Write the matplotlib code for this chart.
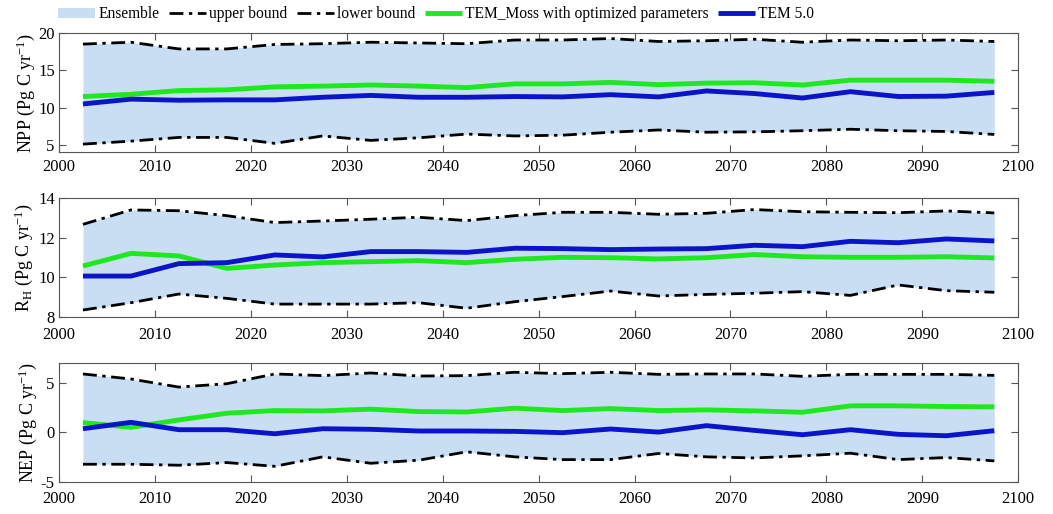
import matplotlib
matplotlib.use("Agg")
import matplotlib.pyplot as plt
import numpy as np

years = [2002.5 + 5 * i for i in range(20)]

npp_upper = [18.55, 18.8, 17.9, 17.9, 18.5, 18.6, 18.8, 18.7, 18.6, 19.1,
             19.1, 19.3, 18.9, 19.0, 19.2, 18.8, 19.1, 19.0, 19.1, 18.9]
npp_lower = [5.1, 5.5, 6.0, 6.0, 5.2, 6.2, 5.6, 5.95, 6.45, 6.2,
             6.3, 6.7, 7.0, 6.7, 6.75, 6.9, 7.1, 6.9, 6.8, 6.4]
npp_moss = [11.5, 11.8, 12.3, 12.4, 12.8, 12.9, 13.05, 12.9, 12.7, 13.2,
            13.2, 13.4, 13.1, 13.3, 13.35, 13.05, 13.7, 13.7, 13.7, 13.55]
npp_tem5 = [10.5, 11.15, 11.0, 11.05, 11.05, 11.4, 11.65, 11.4, 11.4, 11.5,
            11.45, 11.75, 11.45, 12.25, 11.9, 11.3, 12.15, 11.5, 11.55, 12.05]

rh_upper = [12.68, 13.41, 13.37, 13.12, 12.77, 12.85, 12.94, 13.04, 12.87, 13.12,
            13.29, 13.29, 13.19, 13.24, 13.43, 13.32, 13.29, 13.27, 13.36, 13.26]
rh_lower = [8.34, 8.71, 9.15, 8.93, 8.64, 8.64, 8.64, 8.71, 8.43, 8.76,
            9.02, 9.30, 9.05, 9.13, 9.19, 9.27, 9.08, 9.61, 9.32, 9.24]
rh_moss = [10.57, 11.21, 11.08, 10.45, 10.62, 10.74, 10.79, 10.84, 10.74, 10.91,
           11.01, 10.99, 10.93, 10.99, 11.15, 11.04, 11.01, 11.01, 11.04, 10.98]
rh_tem5 = [10.06, 10.06, 10.69, 10.74, 11.13, 11.03, 11.30, 11.30, 11.26, 11.47,
           11.45, 11.40, 11.43, 11.45, 11.62, 11.55, 11.82, 11.75, 11.94, 11.84]

nep_upper = [5.92, 5.41, 4.59, 4.93, 5.92, 5.75, 6.02, 5.71, 5.75, 6.09,
             5.95, 6.09, 5.88, 5.92, 5.92, 5.68, 5.88, 5.88, 5.88, 5.78]
nep_lower = [-3.23, -3.23, -3.33, -3.06, -3.44, -2.48, -3.13, -2.82, -1.97, -2.48,
             -2.76, -2.76, -2.14, -2.48, -2.59, -2.38, -2.11, -2.76, -2.55, -2.89]
nep_moss = [0.99, 0.51, 1.26, 1.94, 2.21, 2.18, 2.35, 2.11, 2.07, 2.45,
            2.21, 2.41, 2.21, 2.28, 2.18, 2.04, 2.69, 2.69, 2.62, 2.59]
nep_tem5 = [0.37, 1.02, 0.27, 0.27, -0.14, 0.37, 0.31, 0.14, 0.14, 0.10,
            -0.03, 0.34, 0.03, 0.68, 0.20, -0.24, 0.27, -0.20, -0.34, 0.17]

ylabels = [r'NPP (Pg C yr$^{\mathregular{-1}}$)',
           r'R$_{\mathregular{H}}$ (Pg C yr$^{\mathregular{-1}}$)',
           r'NEP (Pg C yr$^{\mathregular{-1}}$)']
ylims = [(4, 20), (8, 14), (-5, 7)]
yticks = [[5, 10, 15, 20], [8, 10, 12, 14], [-5, 0, 5]]
xticks = list(range(2000, 2101, 10))

legend_labels = ['Ensemble', 'upper bound', 'lower bound',
                 'TEM_Moss with optimized parameters', 'TEM 5.0']

plt.rcParams['font.family'] = ['Liberation Serif', 'DejaVu Serif']
plt.rcParams['mathtext.fontset'] = 'custom'
plt.rcParams['mathtext.rm'] = 'Liberation Serif'
plt.rcParams['mathtext.it'] = 'Liberation Serif:italic'
plt.rcParams['axes.unicode_minus'] = False

fill_color = '#c9ddf3'
green = '#1ee81e'
blue = '#0a14c8'
spine_c = '#555555'

fig = plt.figure(figsize=(10.53, 5.14), dpi=100)
positions = [[0.056, 0.7037, 0.911, 0.2315],
             [0.056, 0.3838, 0.911, 0.2304],
             [0.056, 0.0628, 0.911, 0.2304]]
labelpads = [1, 2, 1]
xpads = [5.0, 7.5, 7.0]

data = [(npp_upper, npp_lower, npp_moss, npp_tem5),
        (rh_upper, rh_lower, rh_moss, rh_tem5),
        (nep_upper, nep_lower, nep_moss, nep_tem5)]

dashdot = (0, (5, 2, 1.2, 2))
handles = None
for i, (pos, (up, lo, moss, tem5)) in enumerate(zip(positions, data)):
    ax = fig.add_axes(pos)
    h_fill = ax.fill_between(years, lo, up, color=fill_color, linewidth=0)
    h_up, = ax.plot(years, up, color='black', linestyle=dashdot, linewidth=2.0)
    h_lo, = ax.plot(years, lo, color='black', linestyle=dashdot, linewidth=2.0)
    h_moss, = ax.plot(years, moss, color=green, linewidth=3.5, solid_capstyle='butt')
    h_tem, = ax.plot(years, tem5, color=blue, linewidth=3.5, solid_capstyle='butt')
    if handles is None:
        handles = [h_fill, h_up, h_lo, h_moss, h_tem]
    ax.set_xlim(2000, 2100)
    ax.set_ylim(*ylims[i])
    ax.set_xticks(xticks)
    ax.set_yticks(yticks[i])
    ax.tick_params(direction='in', top=True, right=True, length=5, width=0.8,
                   color=spine_c, labelsize=12)
    ax.tick_params(axis='x', pad=xpads[i])
    ax.tick_params(axis='y', pad=3)
    for s in ax.spines.values():
        s.set_color(spine_c)
        s.set_linewidth(0.8)
    ax.set_ylabel(ylabels[i], fontsize=13, labelpad=labelpads[i])

fig.legend(handles, legend_labels, loc='center left', bbox_to_anchor=(0.049, 0.972),
           ncol=5, frameon=False, fontsize=11.2, handlelength=2.4,
           handletextpad=0.2, columnspacing=0.6, borderaxespad=0)

fig.savefig('out.png', dpi=100)
